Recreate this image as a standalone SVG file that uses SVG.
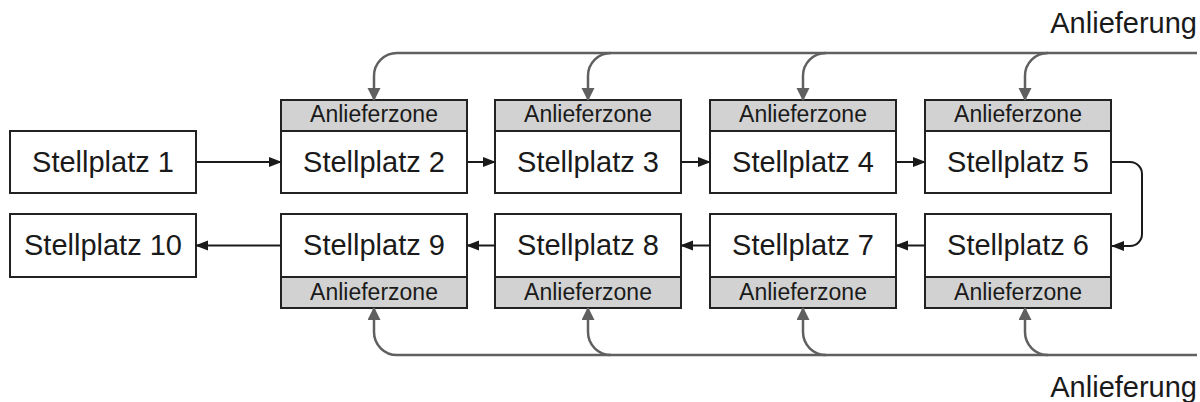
<svg xmlns="http://www.w3.org/2000/svg" width="1200" height="402" viewBox="0 0 1200 402">
  <defs>
    <style>
      .box { fill: #ffffff; stroke: #222222; stroke-width: 2; }
      .zone { fill: #d2d2d2; stroke: #222222; stroke-width: 2; }
      .lbl { font-family: "Liberation Sans", Arial, sans-serif; font-size: 29px; fill: #1a1a1a; text-anchor: middle; }
      .zlbl { font-family: "Liberation Sans", Arial, sans-serif; font-size: 23px; fill: #1a1a1a; text-anchor: middle; }
      .side { font-family: "Liberation Sans", Arial, sans-serif; font-size: 29px; fill: #1a1a1a; text-anchor: end; }
      .flow { fill: none; stroke: #1a1a1a; stroke-width: 2; }
      .feed { fill: none; stroke: #606060; stroke-width: 2.5; }
    </style>
    <marker id="arrowBlack" markerUnits="userSpaceOnUse" markerWidth="14" markerHeight="12" refX="12" refY="5" orient="auto">
      <path d="M0,0 L13,5 L0,10 z" fill="#1a1a1a"/>
    </marker>
    <marker id="arrowGray" markerUnits="userSpaceOnUse" markerWidth="14" markerHeight="14" refX="12" refY="6.5" orient="auto">
      <path d="M0,0 L13,6.5 L0,13 z" fill="#606060"/>
    </marker>
  </defs>

  <!-- Parking bays, upper row -->
  <g id="stellplatz-1">
    <rect class="box" x="10" y="131" width="186" height="62"/>
    <text class="lbl" x="103" y="171.5">Stellplatz 1</text>
  </g>
  <g id="stellplatz-2">
    <rect class="zone" x="281" y="100" width="186" height="31"/>
    <text class="zlbl" x="374" y="122">Anlieferzone</text>
    <rect class="box" x="281" y="131" width="186" height="62"/>
    <text class="lbl" x="374" y="171.5">Stellplatz 2</text>
  </g>
  <g id="stellplatz-3">
    <rect class="zone" x="495" y="100" width="186" height="31"/>
    <text class="zlbl" x="588" y="122">Anlieferzone</text>
    <rect class="box" x="495" y="131" width="186" height="62"/>
    <text class="lbl" x="588" y="171.5">Stellplatz 3</text>
  </g>
  <g id="stellplatz-4">
    <rect class="zone" x="710" y="100" width="186" height="31"/>
    <text class="zlbl" x="803" y="122">Anlieferzone</text>
    <rect class="box" x="710" y="131" width="186" height="62"/>
    <text class="lbl" x="803" y="171.5">Stellplatz 4</text>
  </g>
  <g id="stellplatz-5">
    <rect class="zone" x="925" y="100" width="186" height="31"/>
    <text class="zlbl" x="1018" y="122">Anlieferzone</text>
    <rect class="box" x="925" y="131" width="186" height="62"/>
    <text class="lbl" x="1018" y="171.5">Stellplatz 5</text>
  </g>

  <!-- Parking bays, lower row -->
  <g id="stellplatz-10">
    <rect class="box" x="10" y="214" width="186" height="63"/>
    <text class="lbl" x="103" y="254.5">Stellplatz 10</text>
  </g>
  <g id="stellplatz-9">
    <rect class="box" x="281" y="214" width="186" height="63"/>
    <text class="lbl" x="374" y="254.5">Stellplatz 9</text>
    <rect class="zone" x="281" y="277" width="186" height="31"/>
    <text class="zlbl" x="374" y="299.5">Anlieferzone</text>
  </g>
  <g id="stellplatz-8">
    <rect class="box" x="495" y="214" width="186" height="63"/>
    <text class="lbl" x="588" y="254.5">Stellplatz 8</text>
    <rect class="zone" x="495" y="277" width="186" height="31"/>
    <text class="zlbl" x="588" y="299.5">Anlieferzone</text>
  </g>
  <g id="stellplatz-7">
    <rect class="box" x="710" y="214" width="186" height="63"/>
    <text class="lbl" x="803" y="254.5">Stellplatz 7</text>
    <rect class="zone" x="710" y="277" width="186" height="31"/>
    <text class="zlbl" x="803" y="299.5">Anlieferzone</text>
  </g>
  <g id="stellplatz-6">
    <rect class="box" x="925" y="214" width="186" height="63"/>
    <text class="lbl" x="1018" y="254.5">Stellplatz 6</text>
    <rect class="zone" x="925" y="277" width="186" height="31"/>
    <text class="zlbl" x="1018" y="299.5">Anlieferzone</text>
  </g>

  <!-- Delivery labels -->
  <g id="anlieferung-oben">
    <text class="side" x="1197" y="33">Anlieferung</text>
  </g>
  <g id="anlieferung-unten">
    <text class="side" x="1197" y="397">Anlieferung</text>
  </g>

  <!-- Connectors -->
  <g id="connectors">
    <!-- bay sequence -->
    <path class="flow" d="M196,162 H281" marker-end="url(#arrowBlack)"/>
    <path class="flow" d="M467,162 H495" marker-end="url(#arrowBlack)"/>
    <path class="flow" d="M681,162 H710" marker-end="url(#arrowBlack)"/>
    <path class="flow" d="M896,162 H925" marker-end="url(#arrowBlack)"/>
    <path class="flow" d="M1111,162 H1130 A12,12 0 0 1 1142,174 V234 A12,12 0 0 1 1130,246 H1112" marker-end="url(#arrowBlack)"/>
    <path class="flow" d="M925,245.5 H896" marker-end="url(#arrowBlack)"/>
    <path class="flow" d="M710,245.5 H681" marker-end="url(#arrowBlack)"/>
    <path class="flow" d="M495,245.5 H467" marker-end="url(#arrowBlack)"/>
    <path class="flow" d="M281,245.5 H196" marker-end="url(#arrowBlack)"/>

    <!-- upper delivery feed -->
    <path class="feed" d="M397,53 H1197"/>
    <path class="feed" d="M397,53 A23,23 0 0 0 374,76 V100" marker-end="url(#arrowGray)"/>
    <path class="feed" d="M611,53 A23,23 0 0 0 588,76 V100" marker-end="url(#arrowGray)"/>
    <path class="feed" d="M826,53 A23,23 0 0 0 803,76 V100" marker-end="url(#arrowGray)"/>
    <path class="feed" d="M1048,53 A23,23 0 0 0 1025,76 V100" marker-end="url(#arrowGray)"/>

    <!-- lower delivery feed -->
    <path class="feed" d="M397,355 H1197"/>
    <path class="feed" d="M397,355 A23,23 0 0 1 374,332 V308" marker-end="url(#arrowGray)"/>
    <path class="feed" d="M611,355 A23,23 0 0 1 588,332 V308" marker-end="url(#arrowGray)"/>
    <path class="feed" d="M826,355 A23,23 0 0 1 803,332 V308" marker-end="url(#arrowGray)"/>
    <path class="feed" d="M1048,355 A23,23 0 0 1 1025,332 V308" marker-end="url(#arrowGray)"/>
  </g>
</svg>
